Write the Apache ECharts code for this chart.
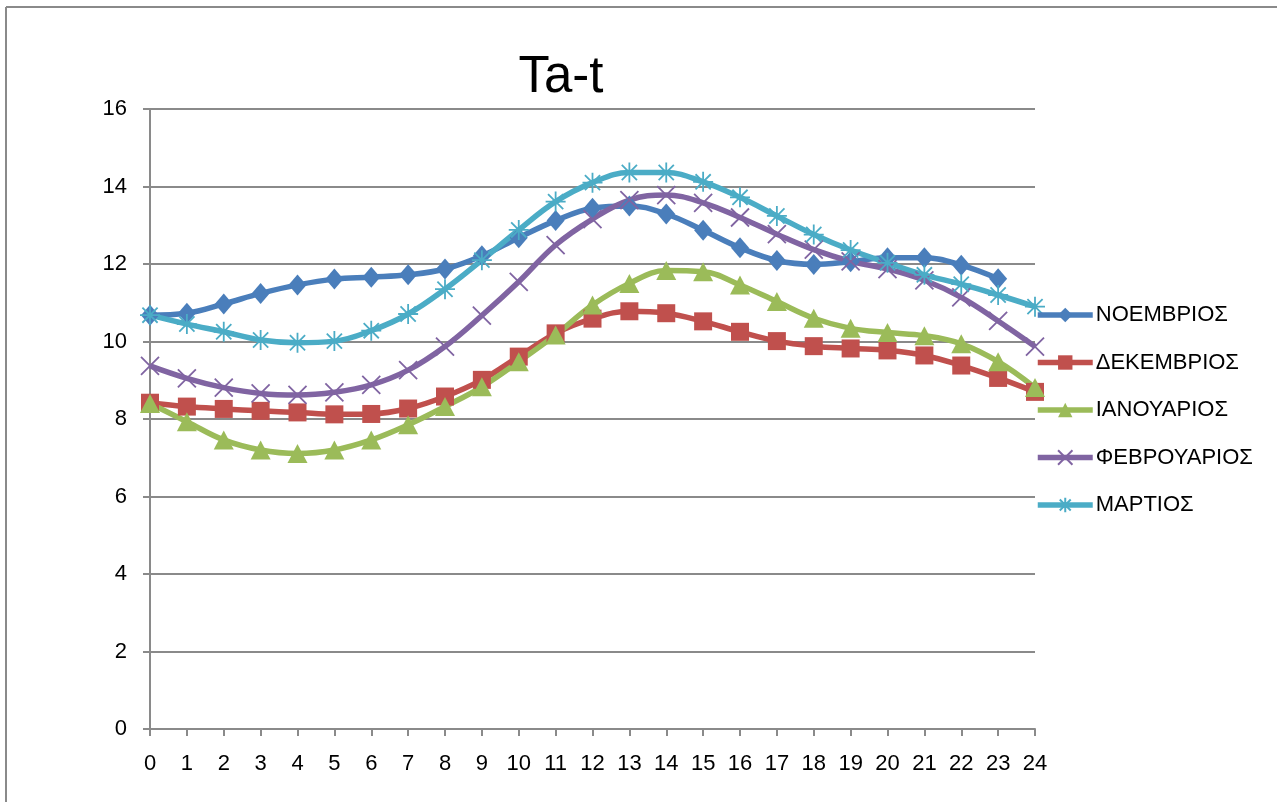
<!DOCTYPE html>
<html>
<head>
<meta charset="utf-8">
<script src="https://cdn.jsdelivr.net/npm/echarts@6/dist/echarts.min.js"></script>
<style>
html,body{margin:0;padding:0;background:#fff;}
#chart{width:1277px;height:802px;}
</style>
</head>
<body>
<div id="chart"></div>
<script>
const hours = ['0','1','2','3','4','5','6','7','8','9','10','11','12','13','14','15','16','17','18','19','20','21','22','23','24'];
const yTicks = [0, 16, 2];
const noemvrios = [10.68,10.73,10.97,11.24,11.46,11.61,11.66,11.72,11.87,12.21,12.68,13.12,13.44,13.50,13.29,12.87,12.42,12.09,11.99,12.06,12.16,12.16,11.97,11.62,null];
const dekemvrios = [8.42,8.32,8.26,8.21,8.17,8.12,8.13,8.27,8.58,9.01,9.61,10.21,10.59,10.78,10.73,10.52,10.25,10.01,9.88,9.82,9.77,9.64,9.38,9.06,8.70];
const ianouarios = [8.40,7.93,7.46,7.20,7.11,7.20,7.46,7.85,8.32,8.83,9.48,10.17,10.94,11.50,11.83,11.80,11.46,11.03,10.60,10.34,10.23,10.15,9.94,9.48,8.81];
const fevrouarios = [9.37,9.05,8.81,8.66,8.62,8.69,8.88,9.26,9.87,10.67,11.54,12.49,13.16,13.65,13.78,13.58,13.20,12.77,12.37,12.07,11.87,11.58,11.14,10.53,9.87];
const martios = [10.68,10.45,10.25,10.04,9.97,10.01,10.28,10.71,11.35,12.10,12.88,13.61,14.10,14.36,14.36,14.12,13.72,13.24,12.76,12.36,12.03,11.72,11.48,11.20,10.90];
const names = ['ΝΟΕΜΒΡΙΟΣ','ΔΕΚΕΜΒΡΙΟΣ','ΙΑΝΟΥΑΡΙΟΣ','ΦΕΒΡΟΥΑΡΙΟΣ','ΜΑΡΤΙΟΣ'];

const font = '"Liberation Sans", Arial, sans-serif';
const gridColor = '#8a8a8a';

function mk(name, data, color, symbol, size, extra) {
  return Object.assign({
    name: name,
    type: 'line',
    data: data,
    smooth: 0.4,
    symbol: symbol,
    symbolSize: size,
    showAllSymbol: true,
    connectNulls: false,
    lineStyle: { color: color, width: 5.5 },
    itemStyle: { color: color, borderColor: color, borderWidth: 0 },
    emphasis: { disabled: true },
    z: 3
  }, extra || {});
}

const chart = echarts.init(document.getElementById('chart'), null, { renderer: 'canvas' });
chart.setOption({
  animation: false,
  backgroundColor: '#fff',
  textStyle: { fontFamily: font },
  title: {
    text: 'Ta-t',
    left: 556,
    top: 47,
    textAlign: 'center',
    textStyle: { fontFamily: font, fontSize: 51, fontWeight: 'normal', color: '#000' }
  },
  graphic: [
    { type: 'line', shape: { x1: 6, y1: 7, x2: 1277, y2: 7 }, style: { stroke: gridColor, lineWidth: 2 }, silent: true },
    { type: 'line', shape: { x1: 6, y1: 7, x2: 6, y2: 802 }, style: { stroke: gridColor, lineWidth: 2 }, silent: true }
  ],
  legend: {
    orient: 'vertical',
    left: 1030,
    top: 299,
    itemWidth: 55,
    itemHeight: 18,
    itemGap: 25.5,
    lineStyle: { width: 5.5 },
    textStyle: { fontFamily: font, fontSize: 22, color: '#000', padding: [0, 0, 0, -2] },
    data: names
  },
  grid: { left: 150, right: 242, top: 109, bottom: 73, containLabel: false },
  xAxis: {
    type: 'category',
    data: hours,
    boundaryGap: false,
    axisLine: { lineStyle: { color: gridColor, width: 2 } },
    axisTick: { show: true, length: 7, inside: false, alignWithLabel: true, lineStyle: { color: gridColor, width: 2 } },
    axisLabel: { fontFamily: font, fontSize: 22, color: '#000', margin: 24, interval: 0 },
    splitLine: { show: false }
  },
  yAxis: {
    type: 'value',
    min: yTicks[0],
    max: yTicks[1],
    interval: yTicks[2],
    axisLine: { show: true, lineStyle: { color: gridColor, width: 2 } },
    axisTick: { show: true, length: 7, lineStyle: { color: gridColor, width: 2 } },
    axisLabel: { fontFamily: font, fontSize: 22, color: '#000', margin: 23 },
    splitLine: { show: true, lineStyle: { color: gridColor, width: 2 } }
  },
  series: [
    mk(names[0], noemvrios, '#4A7EBB', 'diamond', [18, 21]),
    mk(names[1], dekemvrios, '#C0504D', 'rect', 18),
    mk(names[2], ianouarios, '#9BBB59', 'triangle', [20, 19]),
    mk(names[3], fevrouarios, '#8064A2', 'path://M0,0L10,10M10,0L0,10', 18,
       { itemStyle: { color: '#8064A2', borderColor: '#8064A2', borderWidth: 1.8 } }),
    mk(names[4], martios, '#4BACC6', 'path://M5,0L5,10M0,5L10,5M1.2,1.2L8.8,8.8M8.8,1.2L1.2,8.8', 20,
       { itemStyle: { color: '#4BACC6', borderColor: '#4BACC6', borderWidth: 1.8 } })
  ]
});
</script>
</body>
</html>
